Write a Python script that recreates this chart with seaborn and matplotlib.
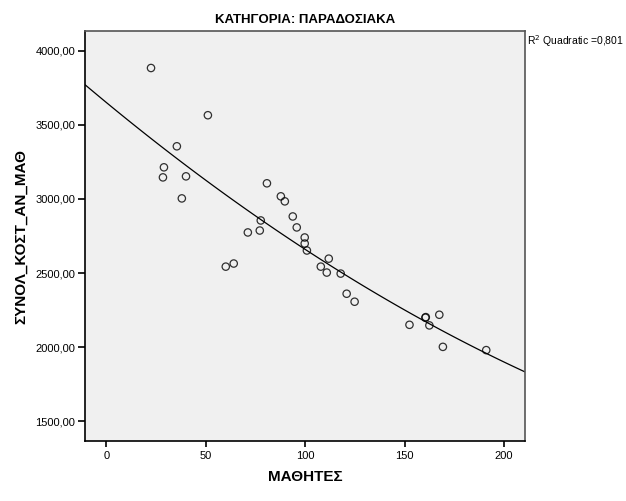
import numpy as np
import pandas as pd
import matplotlib
matplotlib.use("Agg")
import matplotlib.pyplot as plt
import seaborn as sns
from matplotlib.ticker import FuncFormatter

# Δεδομένα (εκτίμηση από το γράφημα)
mathites = [22.4, 51, 35.4, 28.9, 28.4, 40, 37.9, 80.7, 87.7, 89.7, 93.7, 95.7,
            77.6, 77.1, 71.1, 99.7, 99.7, 100.8, 111.8, 107.8, 110.8, 117.8,
            60, 64, 120.8, 124.8, 152.4, 160.4, 160.6, 162.4, 167.4, 169.2, 191]
kostos = [3885, 3566, 3356, 3214, 3146, 3153, 3004, 3106, 3018, 2984, 2882, 2808,
          2855, 2787, 2774, 2740, 2699, 2652, 2597, 2543, 2503, 2496,
          2543, 2564, 2360, 2306, 2150, 2198, 2202, 2146, 2218, 2001, 1979]

df = pd.DataFrame({"ΜΑΘΗΤΕΣ": mathites, "ΣΥΝΟΛ_ΚΟΣΤ_ΑΝ_ΜΑΘ": kostos})

sns.set_style("ticks")
plt.rcParams['font.family'] = ['Liberation Sans', 'DejaVu Sans']
plt.rcParams['text.color'] = 'black'
plt.rcParams['axes.labelcolor'] = 'black'
plt.rcParams['xtick.color'] = 'black'
plt.rcParams['ytick.color'] = 'black'

fig = plt.figure(figsize=(6.26, 5.01), dpi=100)
ax = fig.add_axes([85 / 626, 1 - 441 / 501, 440 / 626, 410 / 501])
ax.set_facecolor("#f0f0f0")
ax.set_xlim(-10.8, 210.5)
ax.set_ylim(1365, 4135)

sns.regplot(data=df, x="ΜΑΘΗΤΕΣ", y="ΣΥΝΟΛ_ΚΟΣΤ_ΑΝ_ΜΑΘ", order=2, ci=None,
            truncate=False, ax=ax,
            scatter_kws=dict(s=28, facecolors="none", edgecolors="black", linewidths=0.9),
            line_kws=dict(color="black", linewidth=0.9))

ax.set_xticks([0, 50, 100, 150, 200])
ax.set_yticks([1500, 2000, 2500, 3000, 3500, 4000])
ax.yaxis.set_major_formatter(FuncFormatter(lambda v, p: f"{v:.2f}".replace(".", ",")))
ax.tick_params(labelsize=8, width=1.2, direction="out")
ax.tick_params(axis="x", length=4, pad=3)
ax.tick_params(axis="y", length=5, pad=2)

for s in ["left", "bottom"]:
    ax.spines[s].set_color("black")
    ax.spines[s].set_linewidth(1.2)
for s in ["top", "right"]:
    ax.spines[s].set_color("#555555")
    ax.spines[s].set_linewidth(1.2)

ax.set_xlabel("ΜΑΘΗΤΕΣ", fontsize=11, fontweight="bold", labelpad=7)
ax.set_ylabel("ΣΥΝΟΛ_ΚΟΣΤ_ΑΝ_ΜΑΘ", fontsize=11, fontweight="bold", labelpad=5)
ax.set_title("ΚΑΤΗΓΟΡΙΑ: ΠΑΡΑΔΟΣΙΑΚΑ", fontsize=9.5, fontweight="bold", pad=6)

fig.text(527 / 626, 1 - 41 / 501, "R$^2$ Quadratic =0,801", fontsize=7.5, va="center", ha="left")

fig.savefig("out.png", dpi=100, facecolor="white")
